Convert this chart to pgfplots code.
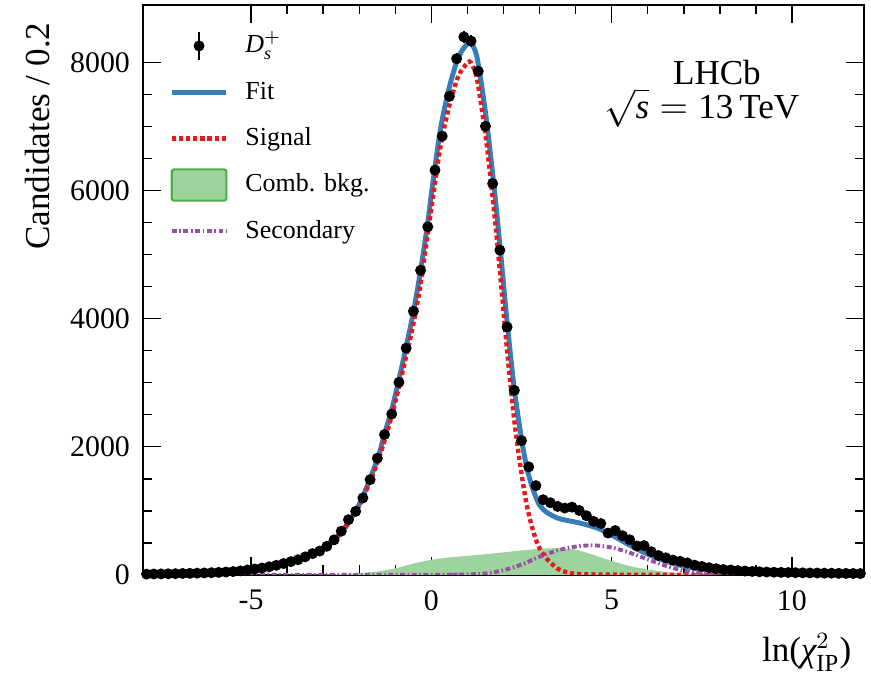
\documentclass[border=0pt]{standalone}
\usepackage{amsmath}
\usepackage{fontspec}
\setmainfont{Liberation Serif}
\usepackage{pgfplots}
\pgfplotsset{compat=1.18}
\usepackage{pgfplotstable}
\definecolor{fitblue}{RGB}{55,126,184}
\definecolor{sigred}{RGB}{228,26,28}
\definecolor{combedge}{RGB}{77,175,74}
\definecolor{combfill}{RGB}{157,211,156}
\definecolor{secpurple}{RGB}{152,78,163}

\pgfplotstableread{
x y
-7.9 10
-7.7 12
-7.5 13
-7.3 15
-7.1 17
-6.9 20
-6.7 22
-6.5 25
-6.3 28
-6.1 32
-5.9 37
-5.7 43
-5.5 50
-5.3 60
-5.1 75
-4.9 90
-4.7 105
-4.5 125
-4.3 148
-4.1 175
-3.9 205
-3.7 235
-3.5 280
-3.3 330
-3.1 370
-2.9 445
-2.7 545
-2.5 680
-2.3 860
-2.1 990
-1.9 1200
-1.7 1485
-1.5 1820
-1.3 2190
-1.1 2510
-0.9 3005
-0.7 3540
-0.5 4115
-0.3 4755
-0.1 5435
0.1 6320
0.3 6850
0.5 7475
0.7 8060
0.9 8400
1.1 8335
1.3 7865
1.5 7005
1.7 6110
1.9 5070
2.1 3870
2.3 2880
2.5 2095
2.7 1685
2.9 1392
3.1 1172
3.3 1125
3.5 1067
3.7 1042
3.9 1057
4.1 1005
4.3 922
4.5 833
4.7 800
4.9 651
5.1 690
5.3 610
5.5 547
5.7 450
5.9 455
6.1 360
6.3 300
6.5 265
6.7 230
6.9 210
7.1 185
7.3 150
7.5 130
7.7 110
7.9 95
8.1 82
8.3 75
8.5 65
8.7 58
8.9 52
9.1 47
9.3 43
9.5 40
9.7 37
9.9 35
10.1 32
10.3 30
10.5 28
10.7 27
10.9 25
11.1 24
11.3 22
11.5 21
11.7 20
11.9 19
}\datatab

\pgfplotstableread{
x y
-8 15
-7 20
-6 35
-5 80
-4.5 125
-4 192
-3.5 290
-3 420
-2.5 665
-2 1100
-1.5 1800
-1.3 2200
-1.1 2580
-0.9 3050
-0.7 3560
-0.5 4100
-0.3 4750
-0.1 5500
0 5950
0.25 6950
0.5 7620
0.75 8080
1.0 8300
1.1 8310
1.25 8120
1.4 7620
1.55 7000
1.75 6000
1.9 5150
2.1 3950
2.3 2900
2.5 2120
2.66 1640
2.84 1300
3.0 1090
3.2 975
3.5 885
3.75 850
4.1 810
4.6 729
5.07 599
5.53 453
6.0 323
6.45 224
6.92 146
7.38 94
7.84 68
8.3 52
9 40
10 28
11 22
12 18
}\fittab

\pgfplotstableread{
x y
-8 10
-7 18
-6 32
-5 75
-4 185
-3 415
-2.5 655
-2 1080
-1.5 1750
-1.1 2485
-0.7 3410
-0.5 3920
-0.3 4545
0 5720
0.25 6680
0.5 7330
0.75 7790
1.0 7995
1.1 7995
1.25 7780
1.4 7270
1.55 6650
1.75 5620
1.9 4745
2.1 3500
2.3 2410
2.5 1580
2.66 1050
2.84 650
3.0 415
3.2 250
3.5 95
3.75 40
4.0 15
4.5 5
5.0 2
6.0 0
12 0
}\sigtab

\pgfplotstableread{
x y
-8 0
-4 0
-3 3
-2.5 10
-2 22
-1.5 50
-1 100
-0.5 175
0 235
0.5 272
1 295
1.5 320
2 350
2.5 380
3 405
3.5 418
4 395
4.5 310
5 215
5.5 135
6 80
6.5 42
7 20
7.5 8
8 0
12 0
}\combtab

\pgfplotstableread{
x y
-8 0
0 0
0.5 2
1 6
1.5 20
2 70
2.5 160
3 280
3.5 380
4 440
4.5 460
5 425
5.5 345
6 240
6.5 140
7 62
7.5 25
8 10
9 2
10 0
12 0
}\sectab

\begin{document}
\begin{tikzpicture}
\begin{axis}[
  scale only axis,
  width=277.6pt, height=219.4pt,
  xmin=-8, xmax=12, ymin=0, ymax=8900,
  xtick={-5,0,5,10}, xticklabels={-5,0,5,10},
  ytick={0,2000,4000,6000,8000}, yticklabels={0,2000,4000,6000,8000},
  minor x tick num=4, minor y tick num=3,
  tick align=inside, major tick length=7pt, minor tick length=3.6pt,
  axis line style={line width=0.6pt},
  every tick/.style={black, line width=0.6pt},
  ticklabel style={font=\fontsize{11.5}{13}\selectfont},
  xticklabel style={yshift=-2.5pt},
  yticklabel style={xshift=-1.5pt},
  ylabel={Candidates / 0.2},
  ylabel style={font=\fontsize{13.5}{15}\selectfont, at={(axis description cs:-0.146,0.985)}, anchor=east},
  xlabel={ln($\textit{χ}^{2}_{\text{IP}}$)},
  xlabel style={font=\fontsize{13.5}{15}\selectfont, at={(axis description cs:0.995,-0.153)}, anchor=base east},
  legend cell align=left,
  legend style={at={(axis description cs:0.025,0.97)}, anchor=north west, draw=none, fill=none,
    font=\fontsize{10}{12}\selectfont, row sep=3.85pt,
    nodes={inner sep=1pt, text height=7.5pt, text depth=2.3pt},
    /tikz/every odd column/.append style={column sep=5.4pt}},
]
\coordinate (bl) at (rel axis cs:0,0);
\coordinate (tr) at (rel axis cs:1,1);

\addplot[draw=none, fill=combfill, forget plot] table[x=x,y=y] {\combtab} \closedcycle;

\addplot[only marks, mark=*, mark size=1.9pt, black, forget plot,
  error bars/.cd, y dir=both, y explicit, error mark=none,
  error bar style={line width=0.8pt, black}]
  table[x=x, y=y, y error expr=sqrt(\thisrow{y})] {\datatab};

\addplot[fitblue, line width=1.9pt, smooth, forget plot] table[x=x,y=y] {\fittab};
\addplot[sigred, line width=1.7pt, dash pattern=on 1.6pt off 1.15pt, smooth, forget plot] table[x=x,y=y] {\sigtab};
\addplot[secpurple, line width=1.5pt, dash pattern=on 1.9pt off 1pt on 0.6pt off 1pt, smooth, forget plot] table[x=x,y=y] {\sectab};

\addlegendimage{legend image code/.code={
  \path[draw=none, fill=none] (0pt,-7pt) rectangle (21pt,7pt);
  \draw[black, line width=0.8pt] (10.5pt,-5.5pt) -- (10.5pt,5.5pt);
  \fill[black] (10.5pt,0pt) circle (1.9pt);}}
\addlegendentry{$\textit{D}^{+}_{\textit{s}}$}
\addlegendimage{legend image code/.code={
  \path[draw=none, fill=none] (0pt,-7pt) rectangle (21pt,7pt);
  \draw[fitblue, line width=1.9pt] (0pt,0pt) -- (21pt,0pt);}}
\addlegendentry{Fit}
\addlegendimage{legend image code/.code={
  \path[draw=none, fill=none] (0pt,-7pt) rectangle (21pt,7pt);
  \draw[sigred, line width=1.7pt, dash pattern=on 1.6pt off 1.15pt] (0pt,0pt) -- (21pt,0pt);}}
\addlegendentry{Signal}
\addlegendimage{legend image code/.code={
  \path[draw=none, fill=none] (0pt,-7pt) rectangle (21pt,7pt);
  \draw[combedge, fill=combfill, line width=0.8pt, rounded corners=0.8pt] (0pt,-6pt) rectangle (21pt,6pt);}}
\addlegendentry{Comb. bkg.}
\addlegendimage{legend image code/.code={
  \path[draw=none, fill=none] (0pt,-7pt) rectangle (21pt,7pt);
  \draw[secpurple, line width=1.5pt, dash pattern=on 1.9pt off 1pt on 0.6pt off 1pt] (0pt,0pt) -- (21pt,0pt);}}
\addlegendentry{Secondary}

\node[font=\fontsize{13.5}{15}\selectfont, anchor=base] at (axis cs:7.92,7650) {LHCb};
\node[font=\fontsize{13.5}{15}\selectfont, anchor=base] at (axis cs:7.5,7130) {$\sqrt{\textit{s}}={}$13\,TeV};
\end{axis}
\pgfresetboundingbox
\path[use as bounding box] ([xshift=-55.05pt,yshift=-40.4pt]bl) rectangle ([xshift=2.7pt,yshift=1.9pt]tr);
\end{tikzpicture}
\end{document}
